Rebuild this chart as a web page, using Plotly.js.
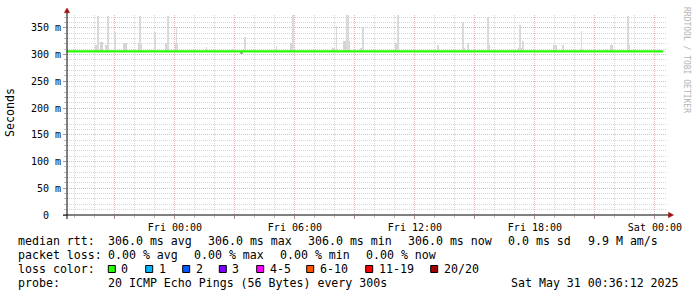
<!DOCTYPE html>
<html>
<head>
<meta charset="utf-8">
<script src="https://cdn.plot.ly/plotly-3.0.1.min.js"></script>
<style>
html,body{margin:0;padding:0;background:#fff;}
#chart{width:697px;height:297px;}
</style>
</head>
<body>
<div id="chart"></div>
<script>
// ---------------- DATA ----------------
const startTime = '2025-05-29 18:36:12';
const endTime = '2025-05-31 00:36:12';

// median RTT (ms), constant over the whole period
const medianTimes = ['2025-05-29 18:36:12', '2025-05-29 21:00', '2025-05-30 00:00', '2025-05-30 03:00',
  '2025-05-30 06:00', '2025-05-30 09:00', '2025-05-30 12:00', '2025-05-30 15:00', '2025-05-30 18:00',
  '2025-05-30 21:00', '2025-05-31 00:25'];
const medianValues = [306, 306, 306, 306, 306, 306, 306, 306, 306, 306, 306];

// smoke: thin tall spikes (max ping, ms)
const spikeTimes = ['2025-05-29 20:10', '2025-05-29 20:40', '2025-05-29 21:00', '2025-05-29 22:15',
  '2025-05-29 23:00', '2025-05-29 23:40', '2025-05-30 00:05', '2025-05-30 01:35', '2025-05-30 02:55',
  '2025-05-30 03:30', '2025-05-30 05:05', '2025-05-30 05:55', '2025-05-30 08:05', '2025-05-30 08:35',
  '2025-05-30 08:40', '2025-05-30 09:25', '2025-05-30 11:10', '2025-05-30 13:10', '2025-05-30 13:50',
  '2025-05-30 14:25', '2025-05-30 14:40', '2025-05-30 15:40', '2025-05-30 17:15', '2025-05-30 17:25',
  '2025-05-30 19:00', '2025-05-30 19:25', '2025-05-30 20:20', '2025-05-30 21:35', '2025-05-30 22:40'];
const spikeMax = [372, 372, 342, 373, 342, 372, 351, 314, 311, 332, 316, 374, 353, 374, 374, 352, 374,
  317, 311, 361, 321, 370, 355, 325, 317, 317, 345, 311, 372];

// smoke: denser lower blocks (ms)
const blockTimes = ['2025-05-29 20:05', '2025-05-29 20:20', '2025-05-29 20:35', '2025-05-29 21:30',
  '2025-05-29 22:15', '2025-05-29 23:35', '2025-05-30 00:05', '2025-05-30 05:50', '2025-05-30 07:55',
  '2025-05-30 08:30', '2025-05-30 08:40', '2025-05-30 09:20', '2025-05-30 11:05', '2025-05-30 14:25',
  '2025-05-30 15:40', '2025-05-30 17:15', '2025-05-30 19:00', '2025-05-30 20:20', '2025-05-30 21:50',
  '2025-05-30 22:40'];
const blockTop = [317, 323, 317, 321, 321, 321, 321, 322, 313, 326, 326, 313, 322, 313, 317, 313, 317,
  310, 317, 317];

// smoke below the median (min ping, ms)
const lowTimes = ['2025-05-30 03:20'];
const lowMin = [301];

// axis ticks
const xTickVals = ['2025-05-29 21:00', '2025-05-30 00:00', '2025-05-30 03:00', '2025-05-30 06:00',
  '2025-05-30 09:00', '2025-05-30 12:00', '2025-05-30 15:00', '2025-05-30 18:00', '2025-05-30 21:00',
  '2025-05-31 00:00'];
const xTickText = ['', 'Fri 00:00', '', 'Fri 06:00', '', 'Fri 12:00', '', 'Fri 18:00', '', 'Sat 00:00'];
const yTickVals = [0, 50, 100, 150, 200, 250, 300, 350];
const yTickText = ['0\u00a0\u00a0', '50 m', '100 m', '150 m', '200 m', '250 m', '300 m', '350 m'];

// legend values
const statNames = ['avg', 'max', 'min', 'now'];
const rttStats = [306.0, 306.0, 306.0, 306.0];
const rttSd = 0.0;
const amPerS = 9.9;
const lossStats = [0.00, 0.00, 0.00, 0.00];
const lossLabels = ['0', '1', '2', '3', '4-5', '6-10', '11-19', '20/20'];
const lossColors = ['#26ff00', '#00b8ff', '#0059ff', '#7e00ff', '#ff00ff', '#ff5500', '#ff0000', '#a10000'];
const probeText = '20 ICMP Echo Pings (56 Bytes) every 300s';
const stampText = 'Sat May 31 00:36:12 2025';

// ---------------- LAYOUT HELPERS ----------------
const W = 697, H = 297;
const M = {l: 67, r: 30, t: 15, b: 82};
const PW = W - M.l - M.r, PH = H - M.t - M.b;
const px = x => (x - M.l) / PW;
const py = y => (M.t + PH - y) / PH;
const nb = s => s.replace(/ /g, '\u00a0');
const FONT = 'DejaVu Sans Mono, Liberation Mono, monospace';
const medianRef = medianValues[0];

const traces = [
  {
    type: 'bar', x: blockTimes, base: blockTop.map(() => medianRef), y: blockTop.map(v => v - medianRef),
    width: 600000, marker: {color: '#d4d4d4', line: {width: 0}}, hoverinfo: 'skip'
  },
  {
    type: 'bar', x: spikeTimes, base: spikeMax.map(() => medianRef), y: spikeMax.map(v => v - medianRef),
    width: 300000, marker: {color: '#dadada', line: {width: 0}}, hoverinfo: 'skip'
  },
  {
    type: 'bar', x: lowTimes, base: lowMin, y: lowMin.map(v => medianRef - v),
    width: 600000, marker: {color: '#a8a8a8', line: {width: 0}}, hoverinfo: 'skip'
  },
  {
    type: 'scatter', mode: 'lines', x: medianTimes, y: medianValues,
    line: {color: lossColors[0], width: 2.2}, hoverinfo: 'skip'
  }
];

// legend text segments, each with its pixel x position
const rttSegs = ['median rtt:'].concat(rttStats.map((v, i) => v.toFixed(1) + ' ms ' + statNames[i]),
  [rttSd.toFixed(1) + ' ms sd', amPerS.toFixed(1) + ' M am/s']);
const rttSegPx = [16.5, 107, 207, 307, 407, 506.5, 586.5];
const lossSegs = ['packet loss:'].concat(lossStats.map((v, i) => v.toFixed(2) + ' % ' + statNames[i]));
const lossSegPx = [16.5, 107, 193, 279, 365];
const legendY = [240.7, 255, 269, 283.3];
const annBase = {xref: 'paper', yref: 'paper', showarrow: false, xanchor: 'left', yanchor: 'middle',
  borderpad: 0, font: {family: FONT, size: 11.6, color: '#000'}};

const annotations = [];
rttSegs.forEach((s, i) => annotations.push(Object.assign({}, annBase,
  {x: px(rttSegPx[i]), y: py(legendY[0]), text: nb(s)})));
lossSegs.forEach((s, i) => annotations.push(Object.assign({}, annBase,
  {x: px(lossSegPx[i]), y: py(legendY[1]), text: nb(s)})));
annotations.push(
  Object.assign({}, annBase, {x: px(16.5), y: py(legendY[2]), text: nb('loss color:')}),
  Object.assign({}, annBase, {x: px(16.5), y: py(legendY[3]), text: nb('probe:')}),
  Object.assign({}, annBase, {x: px(107), y: py(legendY[3]), text: nb(probeText)}),
  Object.assign({}, annBase, {x: px(680), y: py(legendY[3]), xanchor: 'right', text: nb(stampText)}),
  Object.assign({}, annBase, {x: px(10), y: py(113), xanchor: 'center', textangle: -90, text: 'Seconds'}),
  Object.assign({}, annBase, {x: px(686), y: py(60), xanchor: 'center', textangle: 90,
    text: nb('RRDTOOL / TOBI OETIKER'), font: {family: FONT, size: 8, color: '#b4b4b4'}})
);

// loss colour legend boxes (pixel positions of each box)
const boxPx = [108.3, 145.7, 182.7, 219.3, 256.7, 306.7, 365.7, 430.7];
const shapes = [];
lossLabels.forEach((lab, i) => {
  shapes.push({type: 'rect', xref: 'paper', yref: 'paper', x0: px(boxPx[i]), x1: px(boxPx[i] + 7),
    y0: py(265.5), y1: py(272.5), fillcolor: lossColors[i], line: {color: '#000', width: 1}});
  annotations.push(Object.assign({}, annBase, {x: px(boxPx[i] + 12), y: py(legendY[2]), text: nb(lab)}));
});

// axes lines with arrows
shapes.push({type: 'line', xref: 'paper', yref: 'paper', x0: px(67), x1: px(67), y0: py(219), y1: py(12),
  line: {color: '#000', width: 1}});
shapes.push({type: 'line', xref: 'paper', yref: 'paper', x0: px(63), x1: px(669), y0: py(215), y1: py(215),
  line: {color: '#000', width: 1}});
shapes.push({type: 'path', xref: 'paper', yref: 'paper',
  path: 'M ' + px(64.3) + ' ' + py(12.7) + ' L ' + px(69.7) + ' ' + py(12.7) + ' L ' + px(67) + ' ' + py(8) + ' Z',
  fillcolor: '#a01010', line: {color: '#a01010', width: 0.5}});
shapes.push({type: 'path', xref: 'paper', yref: 'paper',
  path: 'M ' + px(668.5) + ' ' + py(212.3) + ' L ' + px(668.5) + ' ' + py(217.7) + ' L ' + px(673.5) + ' ' + py(215) + ' Z',
  fillcolor: '#a01010', line: {color: '#a01010', width: 0.5}});

const layout = {
  width: W, height: H,
  margin: M,
  paper_bgcolor: '#ffffff', plot_bgcolor: '#ffffff',
  showlegend: false,
  barmode: 'overlay', bargap: 0,
  font: {family: FONT, size: 10, color: '#000'},
  xaxis: {
    type: 'date', range: [startTime, endTime], fixedrange: true,
    tickmode: 'array', tickvals: xTickVals, ticktext: xTickText,
    showgrid: true, gridcolor: '#ebb4b4', griddash: '1px,1px', gridwidth: 1,
    ticks: 'outside', ticklen: 3, tickcolor: '#b09090',
    minor: {tickmode: 'linear', tick0: '2025-05-30 00:00', dtick: 3600000, showgrid: true,
      gridcolor: '#d6d6d6', griddash: '1px,1px', ticks: 'outside', ticklen: 2, tickcolor: '#c0c0c0'},
    showline: false, zeroline: false,
    tickfont: {family: FONT, size: 10, color: '#000'}
  },
  yaxis: {
    range: [0, 374], fixedrange: true,
    tickmode: 'array', tickvals: yTickVals, ticktext: yTickText,
    showgrid: true, gridcolor: '#ebb4b4', griddash: '1px,1px', gridwidth: 1,
    ticks: 'outside', ticklen: 3, tickcolor: '#b09090',
    minor: {tickmode: 'linear', tick0: 0, dtick: 10, showgrid: true,
      gridcolor: '#d6d6d6', griddash: '1px,1px', ticks: 'outside', ticklen: 2, tickcolor: '#c0c0c0'},
    showline: false, zeroline: false,
    tickfont: {family: FONT, size: 10, color: '#000'}
  },
  annotations: annotations,
  shapes: shapes
};

Plotly.newPlot('chart', traces, layout, {staticPlot: true, displayModeBar: false});
</script>
</body>
</html>
